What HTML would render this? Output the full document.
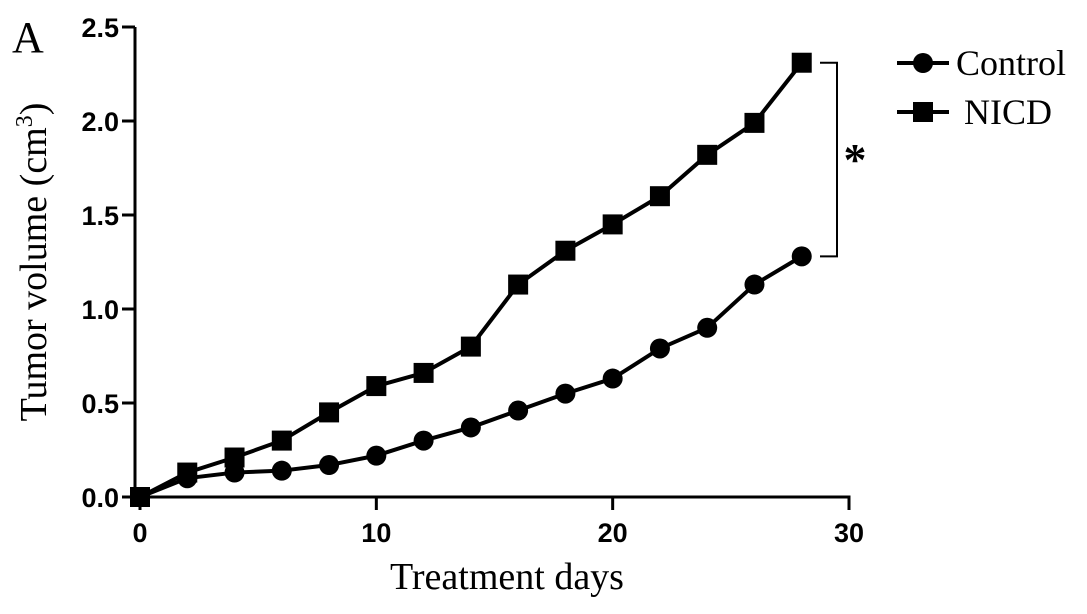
<!DOCTYPE html>
<html><head><meta charset="utf-8"><style>
body{margin:0;background:#fff;width:1087px;height:614px;overflow:hidden}
svg{display:block}
.tk{font-family:"Liberation Sans",sans-serif;font-weight:bold;font-size:27px}
.sr{font-family:"Liberation Serif",serif}
</style></head><body>
<svg id="c" width="1087" height="614"></svg>
<script>
const days=[0,2,4,6,8,10,12,14,16,18,20,22,24,26,28];
const control=[0,0.10,0.13,0.14,0.17,0.22,0.30,0.37,0.46,0.55,0.63,0.79,0.90,1.13,1.28];
const nicd=[0,0.13,0.21,0.30,0.45,0.59,0.66,0.80,1.13,1.31,1.45,1.60,1.82,1.99,2.31];
const xTicks=[0,10,20,30];
const yTicks=[0.0,0.5,1.0,1.5,2.0,2.5];
const X0=140,X1=849,Y0=497,Y1=27;
const sx=v=>X0+(X1-X0)*v/30, sy=v=>Y0-(Y0-Y1)*v/2.5;
const svg=document.getElementById('c');const NS='http://www.w3.org/2000/svg';
function mk(t,a,p){const e=document.createElementNS(NS,t);for(const k in a)e.setAttribute(k,a[k]);(p||svg).appendChild(e);return e;}
let g=mk('g',{});


mk('line',{x1:135,y1:Y1,x2:135,y2:Y0+2,stroke:'#000','stroke-width':3},g);
yTicks.forEach(v=>{mk('line',{x1:122,y1:sy(v),x2:135,y2:sy(v),stroke:'#000','stroke-width':3},g);
const t=mk('text',{x:119,y:sy(v)+10,'text-anchor':'end',class:'tk'},g);t.textContent=v.toFixed(1);

});
g=mk('g',{});


mk('line',{x1:134,y1:Y0,x2:X1+1.5,y2:Y0,stroke:'#000','stroke-width':3},g);
xTicks.forEach(v=>{mk('line',{x1:sx(v),y1:Y0,x2:sx(v),y2:Y0+13,stroke:'#000','stroke-width':3},g);
const t=mk('text',{x:sx(v),y:542,'text-anchor':'middle',class:'tk'},g);t.textContent=v;

});
let t=mk('text',{x:507,y:589,'text-anchor':'middle',class:'sr','font-size':38});t.textContent='Treatment days';


t=mk('text',{x:0,y:0,'text-anchor':'middle',class:'sr','font-size':38,transform:'translate(46,262) rotate(-90)'});
t.innerHTML='Tumor volume (cm<tspan dy="-14" font-size="24">3</tspan><tspan dy="14">)</tspan>';


t=mk('text',{x:12,y:52,class:'sr','font-size':44});t.textContent='A';


function series(vals,name,sq){const gg=mk('g',{});


mk('polyline',{points:days.map((d,i)=>sx(d)+','+sy(vals[i])).join(' '),fill:'none',stroke:'#000','stroke-width':4},gg);
days.forEach((d,i)=>{let m;if(sq)m=mk('rect',{x:sx(d)-10,y:sy(vals[i])-10,width:20,height:20,fill:'#000'},gg);
else m=mk('circle',{cx:sx(d),cy:sy(vals[i]),r:10,fill:'#000'},gg);

});}
series(control,'control',false);series(nicd,'nicd',true);
g=mk('g',{});


mk('polyline',{points:`820,${sy(2.31)} 837,${sy(2.31)} 837,${sy(1.28)} 820,${sy(1.28)}`,fill:'none',stroke:'#000','stroke-width':2},g);
t=mk('text',{x:855,y:175,'text-anchor':'middle',class:'sr','font-size':46,'font-weight':'bold'},g);t.textContent='*';
g=mk('g',{});


mk('line',{x1:897,y1:63,x2:949,y2:63,stroke:'#000','stroke-width':4},g);
mk('circle',{cx:923,cy:63,r:10,fill:'#000'},g);
t=mk('text',{x:956,y:75,class:'sr','font-size':36},g);t.textContent='Control';


mk('line',{x1:897,y1:112,x2:949,y2:112,stroke:'#000','stroke-width':4},g);
mk('rect',{x:913,y:102,width:20,height:20,fill:'#000'},g);
t=mk('text',{x:964,y:124,class:'sr','font-size':36},g);t.textContent='NICD';


</script>
</body></html>
